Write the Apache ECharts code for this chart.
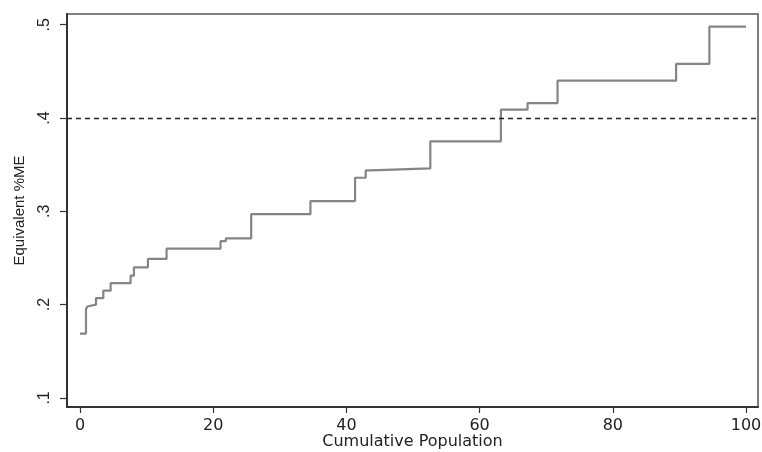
<!DOCTYPE html>
<html>
<head>
<meta charset="utf-8">
<script src="https://cdn.jsdelivr.net/npm/echarts@6/dist/echarts.min.js"></script>
<style>
  html, body { margin: 0; padding: 0; background: #fff; }
  #chart { width: 762px; height: 452px; }
</style>
</head>
<body>
<div id="chart"></div>
<script>
// step starts: cumulative population (%) where each level begins
const popStart = [0, 0.9, 1.1, 1.4, 2.4, 3.5, 4.6, 7.6, 8.1, 10.2, 13.0, 21.1, 21.9, 25.7,
  34.6, 41.3, 42.9, 43.7, 52.6, 63.2, 67.2, 71.7, 89.5, 94.5, 100]
const equivME = [0.169, 0.195, 0.198, 0.200, 0.207, 0.215, 0.223, 0.231, 0.240, 0.249, 0.260, 0.268, 0.271, 0.297,
  0.311, 0.336, 0.344, 0.346, 0.375, 0.409, 0.416, 0.440, 0.458, 0.498, 0.498]
const xTicks = [0, 20, 40, 60, 80, 100]
const yTicks = [0.1, 0.2, 0.3, 0.4, 0.5]
const threshold = 0.4

const chart = echarts.init(document.getElementById('chart'))
const font = 'Liberation Sans, Arial, sans-serif'
const wideFont = 'DejaVu Sans, Liberation Sans, sans-serif'

chart.setOption({
  animation: false,
  grid: {
    left: 67, right: 4, top: 14, bottom: 45,
    containLabel: false,
    outerBoundsMode: 'none',
    show: true, borderColor: '#555', borderWidth: 1.5
  },
  xAxis: {
    type: 'value',
    min: -1.95, max: 101.8,
    name: 'Cumulative Population',
    nameLocation: 'middle',
    nameGap: 27,
    nameMoveOverlap: false,
    nameTextStyle: { color: '#222', fontSize: 16, fontFamily: wideFont },
    axisLine: { show: true, onZero: false, lineStyle: { color: '#333', width: 2 } },
    axisTick: { show: true, length: 6, customValues: xTicks, lineStyle: { color: '#333', width: 1.2 } },
    axisLabel: { customValues: xTicks, color: '#222', fontSize: 16, fontFamily: wideFont, margin: 11 },
    splitLine: { show: false }
  },
  yAxis: {
    type: 'value',
    min: 0.0903, max: 0.5115,
    name: 'Equivalent %ME',
    nameLocation: 'middle',
    nameGap: 40,
    nameMoveOverlap: false,
    nameTextStyle: { color: '#222', fontSize: 15, fontFamily: font },
    axisLine: { show: true, onZero: false, lineStyle: { color: '#333', width: 2 } },
    axisTick: { show: true, length: 7, customValues: yTicks, lineStyle: { color: '#333', width: 1.2 } },
    axisLabel: {
      customValues: yTicks, rotate: 90, color: '#222', fontSize: 16, fontFamily: font, margin: 14,
      formatter: (v) => v.toFixed(1).replace(/^0/, '')
    },
    splitLine: { show: false }
  },
  series: [
    {
      type: 'line',
      step: 'end',
      symbol: 'none',
      data: popStart.map((p, i) => [p, equivME[i]]),
      lineStyle: { color: '#858585', width: 2.2 },
      markLine: {
        silent: true,
        symbol: 'none',
        label: { show: false },
        lineStyle: { color: '#222', type: [5, 4], width: 1.3 },
        data: [{ yAxis: threshold }]
      }
    }
  ]
})
</script>
</body>
</html>
